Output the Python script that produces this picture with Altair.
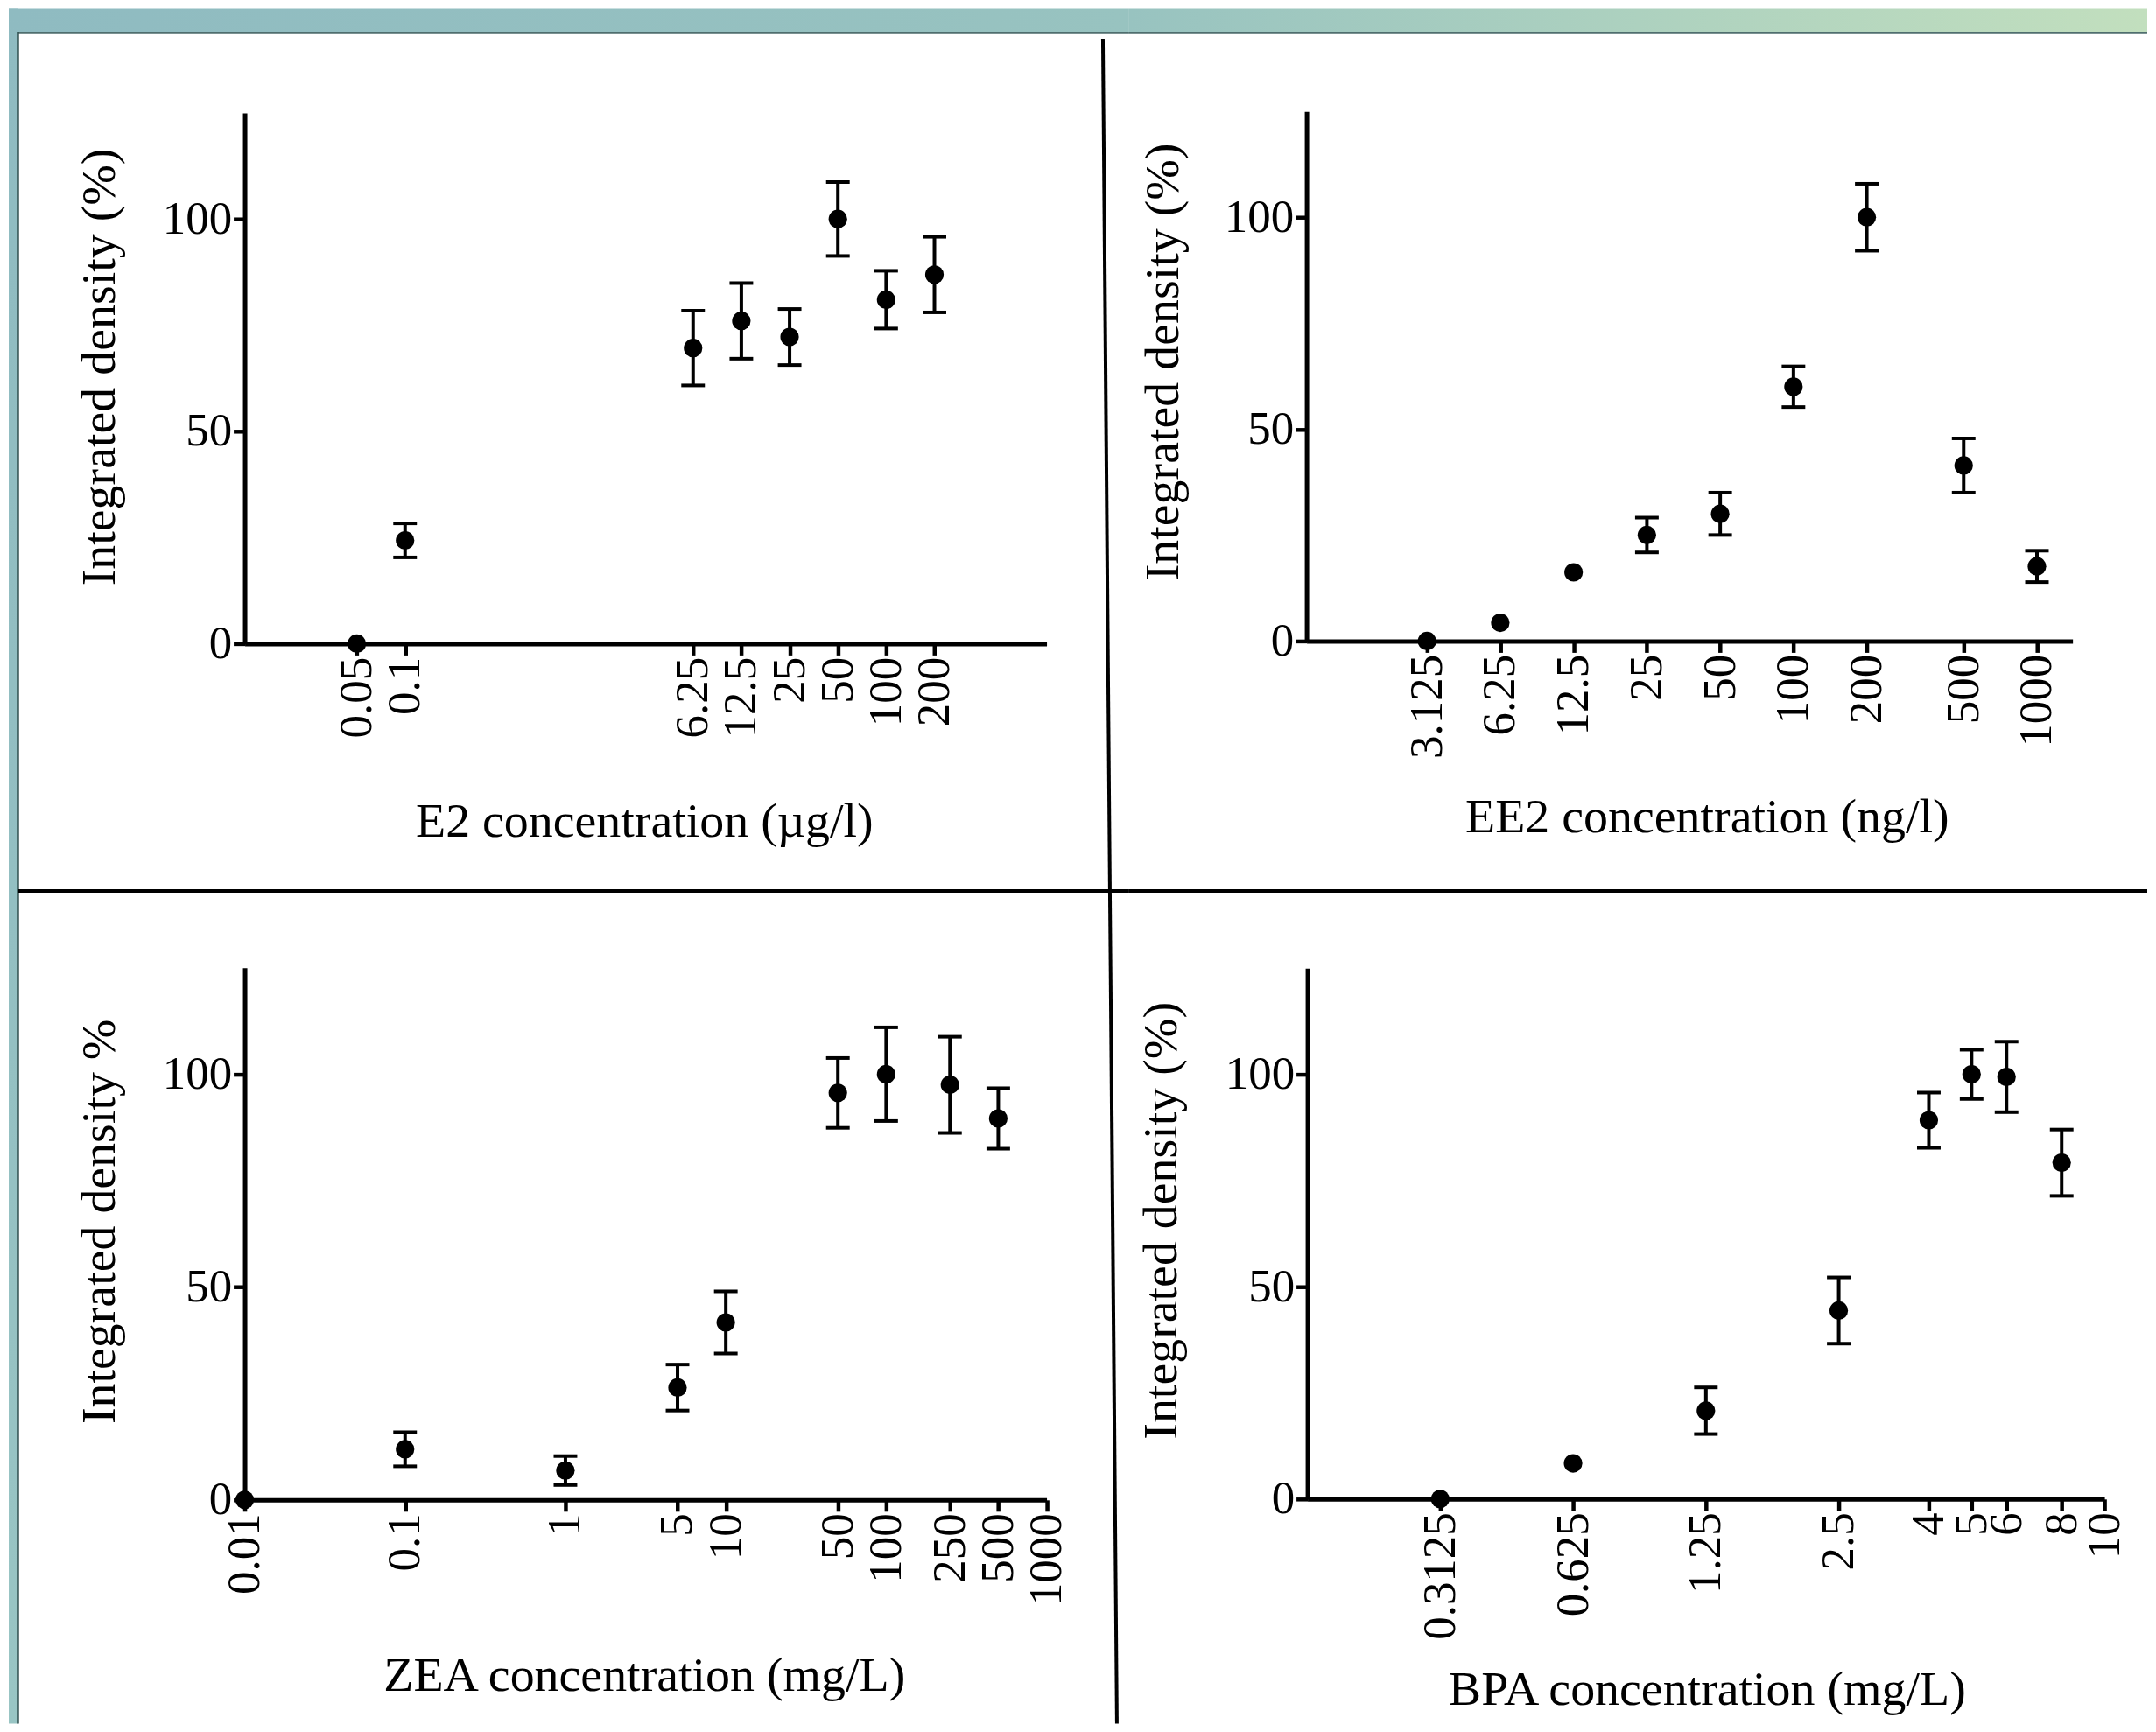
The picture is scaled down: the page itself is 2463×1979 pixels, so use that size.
import altair as alt
import pandas as pd

# ---------------- data ----------------
E2_CONC = [0.05, 0.1, 6.25, 12.5, 25, 50, 100, 200]
E2_MEAN = [0, 24.3, 69.6, 76.0, 72.2, 100, 81.0, 86.9]
E2_ERR = [0, 4.0, 8.8, 8.9, 6.6, 8.7, 6.8, 8.9]
E2_TICKS = [0.05, 0.1, 6.25, 12.5, 25, 50, 100, 200]

EE2_CONC = [3.125, 6.25, 12.5, 25, 50, 100, 200, 500, 1000]
EE2_MEAN = [0, 4.3, 16.2, 25.0, 30.0, 60.0, 100, 41.4, 17.6]
EE2_ERR = [0, 0, 0, 4.1, 5.0, 4.8, 7.9, 6.4, 3.7]
EE2_TICKS = [3.125, 6.25, 12.5, 25, 50, 100, 200, 500, 1000]

ZEA_CONC = [0.01, 0.1, 1, 5, 10, 50, 100, 250, 500]
ZEA_MEAN = [0, 11.9, 6.9, 26.4, 41.7, 95.6, 100, 97.5, 89.6]
ZEA_ERR = [0, 4.0, 3.4, 5.4, 7.3, 8.2, 11.0, 11.3, 7.1]
ZEA_TICKS = [0.01, 0.1, 1, 5, 10, 50, 100, 250, 500, 1000]

BPA_CONC = [0.3125, 0.625, 1.25, 2.5, 4, 5, 6, 8]
BPA_MEAN = [0, 8.4, 20.8, 44.4, 89.2, 100, 99.4, 79.2]
BPA_ERR = [0, 0, 5.5, 7.8, 6.5, 5.8, 8.3, 7.8]
BPA_TICKS = [0.3125, 0.625, 1.25, 2.5, 4, 5, 6, 8, 10]

Y_TICKS = [0, 50, 100]

FONT = "Liberation Serif"
DUMMY = pd.DataFrame({"k": [0]})


def grad(c0, c1, horizontal=True):
    return alt.Gradient(
        gradient="linear",
        stops=[alt.GradientStop(color=c0, offset=0), alt.GradientStop(color=c1, offset=1)],
        x1=0, x2=1 if horizontal else 0, y1=0, y2=0 if horizontal else 1,
    )


def rect(x, x2, y, y2, color):
    return alt.Chart(DUMMY).mark_rect(color=color, strokeWidth=0).encode(
        x=alt.value(x), x2=alt.value(x2), y=alt.value(y), y2=alt.value(y2))


def rule(x, x2, y, y2, color="black", w=4):
    return alt.Chart(DUMMY).mark_rule(color=color, strokeWidth=w).encode(
        x=alt.value(x), x2=alt.value(x2), y=alt.value(y), y2=alt.value(y2))


def panel(conc, mean, err, ticks, xdom, xrng, yrng, W, H, xoff, yoff,
          xtitle, ytitle, xtx, xty, ytx, yty, decor):
    df = pd.DataFrame({"conc": conc, "mean": mean, "err": err})
    df["lo"] = df["mean"] - df["err"]
    df["hi"] = df["mean"] + df["err"]
    xs = alt.Scale(type="log", domain=xdom, range=xrng, nice=False)
    ys = alt.Scale(domain=[0, 125], range=yrng, nice=False, zero=False)
    xa = alt.Axis(values=ticks, labelExpr="'' + datum.value", labelAngle=270,
                  offset=xoff, title=xtitle, titleX=xtx, titleY=xty,
                  titleAlign="center", titleBaseline="middle", titleAngle=0)
    ya = alt.Axis(values=Y_TICKS, offset=yoff, title=ytitle, titleX=ytx, titleY=yty,
                  titleAlign="center", titleBaseline="middle", titleAngle=270)
    X = alt.X("conc:Q", scale=xs, axis=xa)
    base = alt.Chart(df)
    bars = base.transform_filter("datum.err > 0")
    stem = bars.mark_rule(color="black", strokeWidth=4).encode(
        x=X, y=alt.Y("lo:Q", scale=ys, axis=ya), y2="hi:Q")
    cap_lo = bars.mark_tick(color="black", orient="horizontal", size=27, thickness=4, opacity=1).encode(
        x=X, y=alt.Y("lo:Q", scale=ys, axis=ya))
    cap_hi = bars.mark_tick(color="black", orient="horizontal", size=27, thickness=4, opacity=1).encode(
        x=X, y=alt.Y("hi:Q", scale=ys, axis=ya))
    pts = base.mark_circle(color="black", size=450, opacity=1).encode(
        x=X, y=alt.Y("mean:Q", scale=ys, axis=ya))
    return alt.layer(*decor, stem, cap_lo, cap_hi, pts).properties(width=W, height=H)


# cell sizes (page coordinates minus the 8px page margin)
W1, W2 = 1282, 1165
H1, H2 = 1022, 941

dec1 = [
    rect(0, W1, 0, 27, grad("#8fbbc1", "#98c3c0")),
    rule(0, W1, 28, 28, "#4f6e6e", 2.5),
    rect(0, 10, 0, H1, grad("#8fbbc1", "#93bfc2", horizontal=False)),
    rule(10.5, 10.5, 27, H1, "#2f4f4f", 2.5),
    rule(1252, 1260, 35, 1010),
    rule(10, W1, 1010, 1010),
]
dec2 = [
    rect(0, W2, 0, 27, grad("#98c3c0", "#c2dfbe")),
    rule(0, W2, 28, 28, "#4f6e6e", 2.5),
    rule(0, W2, 1010, 1010),
]
dec3 = [
    rect(0, 10, 0, H2, grad("#93bfc2", "#99c5c4", horizontal=False)),
    rule(10.5, 10.5, 0, H2, "#2f4f4f", 2.5),
    rule(1260, 1268, -12, H2),
]
dec4 = []

p1 = panel(E2_CONC, E2_MEAN, E2_ERR, E2_TICKS, [0.01, 1000], [270, 1187.5], [727, 119.5],
           W1, H1, 727 - H1, -270, "E2 concentration (µg/l)", "Integrated density (%)",
           727, 203, -166, 410, dec1)
p2 = panel(EE2_CONC, EE2_MEAN, EE2_ERR, EE2_TICKS, [1, 1400], [203, 1079.5], [724, 117.75],
           W2, H1, 724 - H1, -203, "EE2 concentration (ng/l)", "Integrated density (%)",
           661, 201, -164, 404, dec2)
p3 = panel(ZEA_CONC, ZEA_MEAN, ZEA_ERR, ZEA_TICKS, [0.01, 1000], [270, 1187.5], [685, 76],
           W1, H2, 685 - H2, -270, "ZEA concentration (mg/L)", "Integrated density %",
           727, 201, -166, 366, dec3)
p4 = panel(BPA_CONC, BPA_MEAN, BPA_ERR, BPA_TICKS, [0.15625, 10], [204, 1116], [684, 76.5],
           W2, H2, 684 - H2, -204, "BPA concentration (mg/L)", "Integrated density (%)",
           661, 218, -167, 365, dec4)

chart = (
    alt.concat(p1, p2, p3, p4, columns=2, spacing=0, bounds="flush")
    .properties(padding=0, background="white")
    .configure_view(stroke=None)
    .configure_axis(
        grid=False, domainColor="black", domainWidth=5, tickColor="black", tickWidth=4.5,
        tickSize=13, labelFont=FONT, labelFontSize=53, labelColor="black", labelPadding=2,
        labelFlush=False, labelOverlap=False, labelBound=False,
        titleFont=FONT, titleFontSize=56, titleFontWeight="normal", titleColor="black",
    )
)

chart.save("out.html", embed_options={"renderer": "svg", "actions": False})
